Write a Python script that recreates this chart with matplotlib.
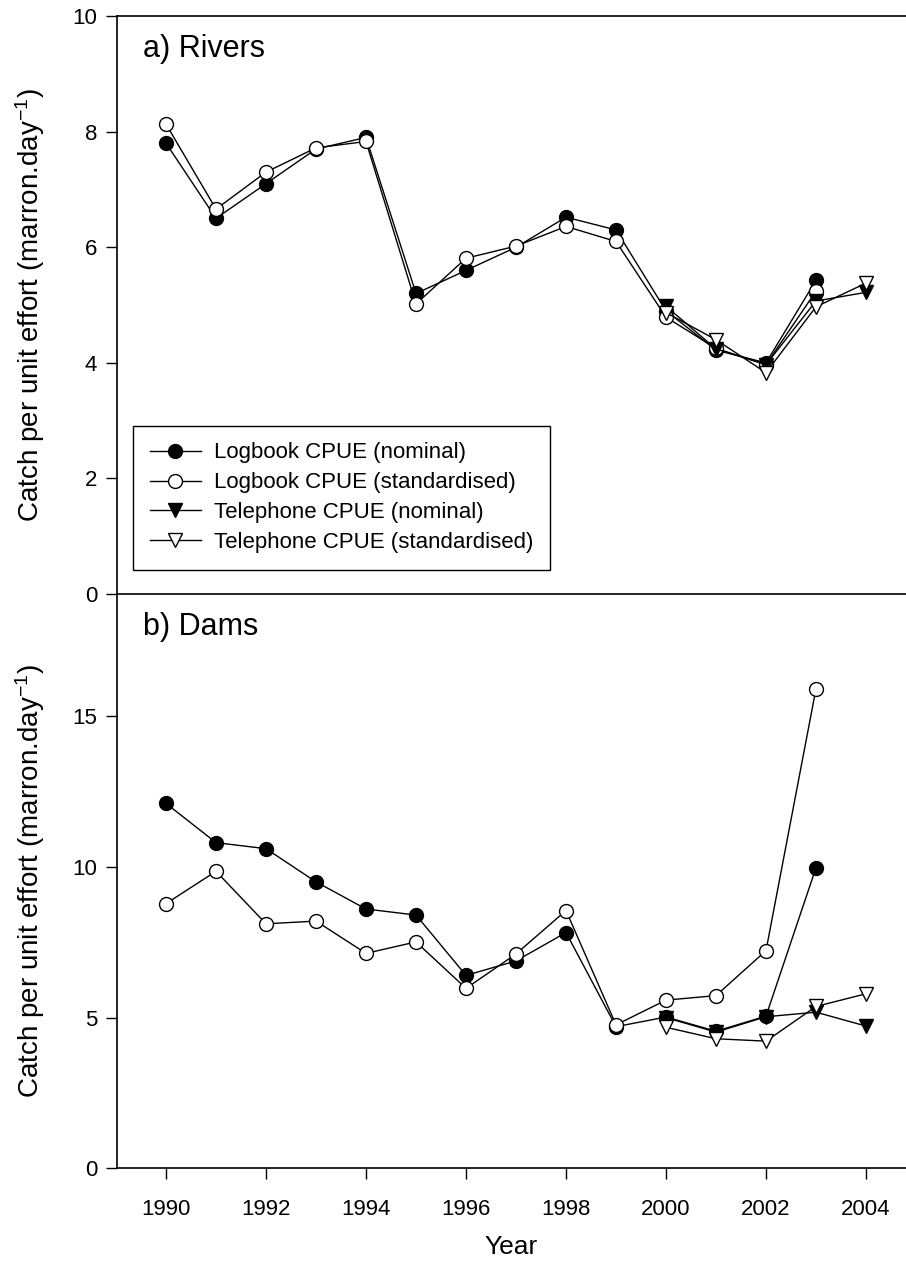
import matplotlib
matplotlib.use("Agg")
import matplotlib.pyplot as plt

plt.rcParams["font.family"] = ["Liberation Sans", "DejaVu Sans"]
plt.rcParams["mathtext.fontset"] = "custom"
plt.rcParams["mathtext.rm"] = "Liberation Sans"
plt.rcParams["mathtext.default"] = "regular"

# Years for each survey
log_years = [1990, 1991, 1992, 1993, 1994, 1995, 1996, 1997, 1998, 1999, 2000, 2001, 2002, 2003]
tel_years = [2000, 2001, 2002, 2003, 2004]

# a) Rivers
rivers_log_nom = [7.80, 6.50, 7.10, 7.70, 7.90, 5.20, 5.60, 6.00, 6.52, 6.30, 4.90, 4.22, 4.00, 5.43]
rivers_log_std = [8.13, 6.66, 7.30, 7.72, 7.83, 5.02, 5.81, 6.02, 6.36, 6.10, 4.79, 4.25, 3.97, 5.24]
rivers_tel_nom = [4.98, 4.24, 3.97, 5.07, 5.22]
rivers_tel_std = [4.87, 4.40, 3.83, 4.97, 5.38]

# b) Dams
dams_log_nom = [12.10, 10.80, 10.60, 9.50, 8.60, 8.40, 6.40, 6.88, 7.82, 4.70, 5.02, 4.55, 5.05, 9.97]
dams_log_std = [8.78, 9.85, 8.11, 8.20, 7.13, 7.51, 5.97, 7.11, 8.55, 4.76, 5.58, 5.73, 7.22, 15.90]
dams_tel_nom = [5.00, 4.52, 5.03, 5.18, 4.72]
dams_tel_std = [4.68, 4.30, 4.22, 5.37, 5.79]

x_ticks = [1990, 1992, 1994, 1996, 1998, 2000, 2002, 2004]
labels = ["Logbook CPUE (nominal)", "Logbook CPUE (standardised)",
          "Telephone CPUE (nominal)", "Telephone CPUE (standardised)"]
ylabel = r"Catch per unit effort (marron.day$^{-1}$)"

fig = plt.figure(figsize=(9.06, 12.65), dpi=100)
ax1 = fig.add_axes([0.1286, 0.5304, 0.8714, 0.4569])
ax2 = fig.add_axes([0.1286, 0.0763, 0.8714, 0.4541])
ax2.patch.set_alpha(0)


# Draw the four series on one panel
def draw_panel(ax, log_nom, log_std, tel_nom, tel_std):
    style = dict(color="black", linewidth=1.0, markersize=10, markeredgewidth=1.0,
                 markeredgecolor="black")
    ax.plot(log_years, log_nom, marker="o", markerfacecolor="black", label=labels[0], **style)
    ax.plot(log_years, log_std, marker="o", markerfacecolor="white", label=labels[1], **style)
    ax.plot(tel_years, tel_nom, marker="v", markerfacecolor="black", label=labels[2], **style)
    ax.plot(tel_years, tel_std, marker="v", markerfacecolor="white", label=labels[3], **style)
    ax.set_xlim(1989.01, 2004.8)
    ax.spines["right"].set_visible(False)
    for s in ax.spines.values():
        s.set_linewidth(1.2)
        s.set_color("black")
    ax.tick_params(axis="both", direction="out", length=8, width=1.0, labelsize=16, pad=6)
    ax.set_ylabel(ylabel, fontsize=20, labelpad=18)


draw_panel(ax1, rivers_log_nom, rivers_log_std, rivers_tel_nom, rivers_tel_std)
draw_panel(ax2, dams_log_nom, dams_log_std, dams_tel_nom, dams_tel_std)

# Top panel
ax1.set_ylim(0, 10)
ax1.set_yticks([0, 2, 4, 6, 8, 10])
ax1.set_xticks([])
ax1.text(0.033, 0.929, "a) Rivers", transform=ax1.transAxes, fontsize=22, va="baseline")
leg = ax1.legend(loc="lower left", bbox_to_anchor=(0.021, 0.042), fontsize=16,
                 frameon=True, fancybox=False, framealpha=1, edgecolor="black",
                 handlelength=2.3, handletextpad=0.6, labelspacing=0.4,
                 borderpad=0.75, borderaxespad=0)
leg.get_frame().set_linewidth(1.0)

# Bottom panel
ax2.set_ylim(0, 19.04)
ax2.set_yticks([0, 5, 10, 15])
ax2.set_xticks(x_ticks)
ax2.spines["top"].set_visible(False)
ax2.tick_params(axis="x", pad=14)
ax2.text(0.033, 0.929, "b) Dams", transform=ax2.transAxes, fontsize=22, va="baseline")
ax2.set_xlabel("Year", fontsize=19, labelpad=11)

fig.savefig("out.png", dpi=100)
